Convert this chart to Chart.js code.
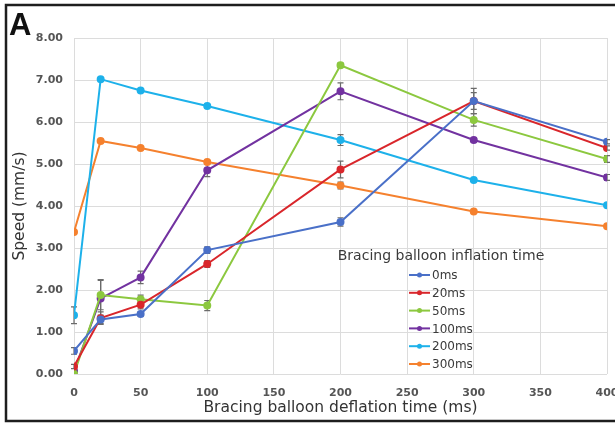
<!DOCTYPE html>
<html>
<head>
<meta charset="utf-8">
<script src="https://cdn.jsdelivr.net/npm/chart.js@4"></script>
<style>
  html, body { margin: 0; padding: 0; background: #fff; overflow: hidden; }
  #wrap { width: 615px; height: 424px; position: relative; }
</style>
</head>
<body>
<div id="wrap"><canvas id="speed-chart"></canvas></div>
<script>
// deflation time (x)
var deflation = [0, 20, 50, 100, 200, 300, 400];
var seriesNames = ["0ms", "20ms", "50ms", "100ms", "200ms", "300ms"];
var seriesColors = ["#4a70c8", "#d9262b", "#8cc83f", "#7232a0", "#1db1ea", "#f5812e"];

// speed (mm/s) per inflation time
var speed0 = [0.55, 1.30, 1.43, 2.95, 3.62, 6.50, 5.53];
var speed20 = [0.18, 1.33, 1.65, 2.62, 4.87, 6.50, 5.38];
var speed50 = [0.00, 1.88, 1.78, 1.63, 7.35, 6.05, 5.12];
var speed100 = [0.07, 1.80, 2.30, 4.85, 6.73, 5.57, 4.68];
var speed200 = [1.40, 7.02, 6.75, 6.38, 5.57, 4.62, 4.02];
var speed300 = [3.38, 5.55, 5.38, 5.05, 4.49, 3.87, 3.52];

// error bars (+/-)
var err0 = [0.08, 0.10, 0.05, 0.08, 0.10, 0.30, 0.05];
var err20 = [0.05, 0.15, 0.10, 0.08, 0.20, 0.20, 0.05];
var err50 = [0.02, 0.35, 0.10, 0.12, 0.05, 0.15, 0.08];
var err100 = [0.03, 0.45, 0.15, 0.15, 0.20, 0.05, 0.07];
var err200 = [0.20, 0.03, 0.03, 0.03, 0.13, 0.03, 0.03];
var err300 = [0.03, 0.03, 0.03, 0.03, 0.08, 0.03, 0.03];

var yTicks = [0, 1, 2, 3, 4, 5, 6, 7, 8];

var allSpeed = [speed0, speed20, speed50, speed100, speed200, speed300];
var allErr = [err0, err20, err50, err100, err200, err300];

var datasets = allSpeed.map(function (vals, i) {
  return {
    label: seriesNames[i],
    data: vals.map(function (v, j) { return { x: deflation[j], y: v }; }),
    errs: allErr[i],
    borderColor: seriesColors[i],
    backgroundColor: seriesColors[i],
    borderWidth: 2,
    pointRadius: 3,
    pointHoverRadius: 3,
    tension: 0
  };
});

// error bars, drawn under the lines
var errorBars = {
  id: 'errorBars',
  beforeDatasetsDraw: function (chart) {
    var ctx = chart.ctx;
    var xs = chart.scales.x, ys = chart.scales.y;
    ctx.save();
    ctx.strokeStyle = '#6b6b6b';
    ctx.lineWidth = 1.2;
    chart.data.datasets.forEach(function (ds) {
      ds.data.forEach(function (p, j) {
        var e = ds.errs[j];
        if (!e || e < 0.04) return;
        var px = xs.getPixelForValue(p.x);
        var top = ys.getPixelForValue(p.y + e);
        var bot = ys.getPixelForValue(Math.max(0, p.y - e));
        ctx.beginPath();
        ctx.moveTo(px, top); ctx.lineTo(px, bot);
        ctx.moveTo(px - 3, top); ctx.lineTo(px + 3, top);
        ctx.moveTo(px - 3, bot); ctx.lineTo(px + 3, bot);
        ctx.stroke();
      });
    });
    ctx.restore();
  }
};

// frame, panel letter and the legend inside the plot
var decor = {
  id: 'decor',
  afterDraw: function (chart) {
    var ctx = chart.ctx;
    ctx.save();
    // frame is open on the right (cropped figure)
    ctx.strokeStyle = '#1e1e1e';
    ctx.lineWidth = 2.5;
    ctx.beginPath();
    ctx.moveTo(chart.width, 5); ctx.lineTo(6, 5);
    ctx.lineTo(6, 421); ctx.lineTo(chart.width, 421);
    ctx.stroke();

    ctx.fillStyle = '#111';
    ctx.font = 'bold 31px "Liberation Sans", Arial, sans-serif';
    ctx.textBaseline = 'alphabetic';
    ctx.fillText('A', 9, 35);

    // legend
    ctx.fillStyle = '#3a3a3a';
    ctx.font = '14px "DejaVu Sans", sans-serif';
    ctx.textAlign = 'center';
    ctx.textBaseline = 'middle';
    ctx.fillText('Bracing balloon inflation time', 441, 256);

    ctx.font = '12px "DejaVu Sans", sans-serif';
    ctx.textAlign = 'left';
    chart.data.datasets.forEach(function (ds, i) {
      var y = 275 + i * 17.8;
      ctx.strokeStyle = ds.borderColor;
      ctx.lineWidth = 2;
      ctx.beginPath();
      ctx.moveTo(409, y); ctx.lineTo(430, y);
      ctx.stroke();
      ctx.fillStyle = ds.borderColor;
      ctx.beginPath();
      ctx.arc(419.5, y, 2.5, 0, Math.PI * 2);
      ctx.fill();
      ctx.fillStyle = '#3a3a3a';
      ctx.fillText(ds.label, 432, y + 1);
    });
    ctx.restore();
  }
};

new Chart(document.getElementById('speed-chart'), {
  type: 'line',
  data: { datasets: datasets },
  plugins: [errorBars, decor],
  options: {
    responsive: true,
    maintainAspectRatio: false,
    animation: false,
    layout: { padding: { left: 8, right: 8, top: 38, bottom: 4 } },
    plugins: {
      legend: { display: false },
      tooltip: { enabled: false }
    },
    scales: {
      x: {
        type: 'linear',
        min: 0,
        max: 400,
        grid: { color: '#dcdcdc', drawTicks: false },
        border: { display: false },
        ticks: {
          stepSize: 50,
          maxRotation: 0,
          padding: 13,
          color: '#555',
          font: { family: 'DejaVu Sans', size: 11, weight: 'bold' }
        },
        title: {
          display: true,
          text: 'Bracing balloon deflation time (ms)',
          color: '#333',
          padding: 3,
          font: { family: 'DejaVu Sans', size: 15.5 }
        },
        afterFit: function (scale) {
          scale.height = 46;
          scale.paddingLeft = 0;
          scale.paddingRight = 0;
        }
      },
      y: {
        min: 0,
        max: 8,
        afterBuildTicks: function (scale) {
          scale.ticks = yTicks.map(function (v) { return { value: v }; });
        },
        grid: { color: '#dcdcdc', drawTicks: false },
        border: { display: false },
        ticks: {
          padding: 11,
          color: '#555',
          font: { family: 'DejaVu Sans', size: 11, weight: 'bold' },
          callback: function (v) { return v.toFixed(2); }
        },
        title: {
          display: true,
          text: 'Speed (mm/s)',
          color: '#333',
          padding: 3,
          font: { family: 'DejaVu Sans', size: 15.5 }
        },
        afterFit: function (scale) {
          scale.width = 66;
          scale.paddingTop = 0;
          scale.paddingBottom = 0;
        }
      }
    }
  }
});
</script>
</body>
</html>
